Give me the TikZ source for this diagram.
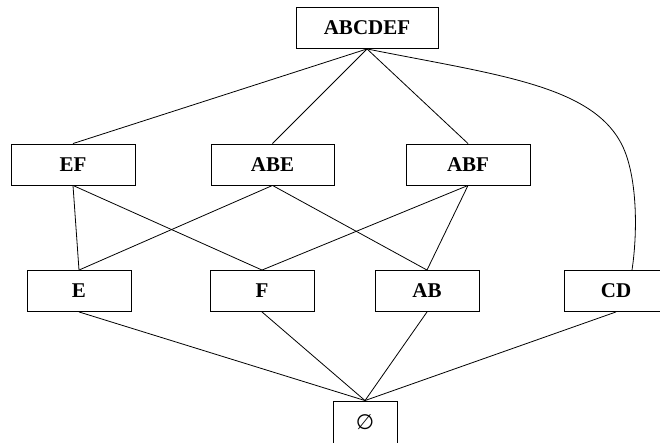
\documentclass[tikz,border=0pt]{standalone}
\usepackage{fontspec}
\setmainfont{Liberation Serif}
\newfontfamily\symfont{DejaVu Sans}
\begin{document}
\begin{tikzpicture}[x=1pt,y=-1pt,
  box/.style={draw,line width=0.9pt,inner sep=0pt,minimum height=41pt,font=\fontsize{21}{23}\selectfont\bfseries},
  edge/.style={line width=0.8pt}]
\clip (0,0) rectangle (660,443);
\node[box,minimum width=142pt] (abcdef) at (367,28) {ABCDEF};
\node[box,minimum width=124pt] (ef) at (73,164.5) {EF};
\node[box,minimum width=123pt] (abe) at (272.5,164.5) {ABE};
\node[box,minimum width=124pt] (abf) at (468,164.5) {ABF};
\node[box,minimum width=104pt] (e) at (79,291) {E};
\node[box,minimum width=104pt] (f) at (262,291) {F};
\node[box,minimum width=104pt] (ab) at (427,291) {AB};
\node[box,minimum width=104pt] (cd) at (616,291) {CD};
\node[box,minimum width=64pt,minimum height=42pt,font=\fontsize{21}{23}\symfont\selectfont] (empty) at (365,422) {∅};
\coordinate (bend) at (622,145);
\draw[edge] (abcdef.south) -- (ef.north);
\draw[edge] (abcdef.south) -- (abe.north);
\draw[edge] (abcdef.south) -- (abf.north);
\draw[edge] (abcdef.south) .. controls +(130,26) and +(-30,-60) .. (bend)
  .. controls +(15,30) and ([xshift=22pt,yshift=40pt]cd.north) .. ([xshift=16pt]cd.north);
\draw[edge] (ef.south) -- (e.north);
\draw[edge] (ef.south) -- (f.north);
\draw[edge] (abe.south) -- (e.north);
\draw[edge] (abe.south) -- (ab.north);
\draw[edge] (abf.south) -- (f.north);
\draw[edge] (abf.south) -- (ab.north);
\draw[edge] (e.south) -- (empty.north);
\draw[edge] (f.south) -- (empty.north);
\draw[edge] (ab.south) -- (empty.north);
\draw[edge] (cd.south) -- (empty.north);
\end{tikzpicture}
\end{document}
